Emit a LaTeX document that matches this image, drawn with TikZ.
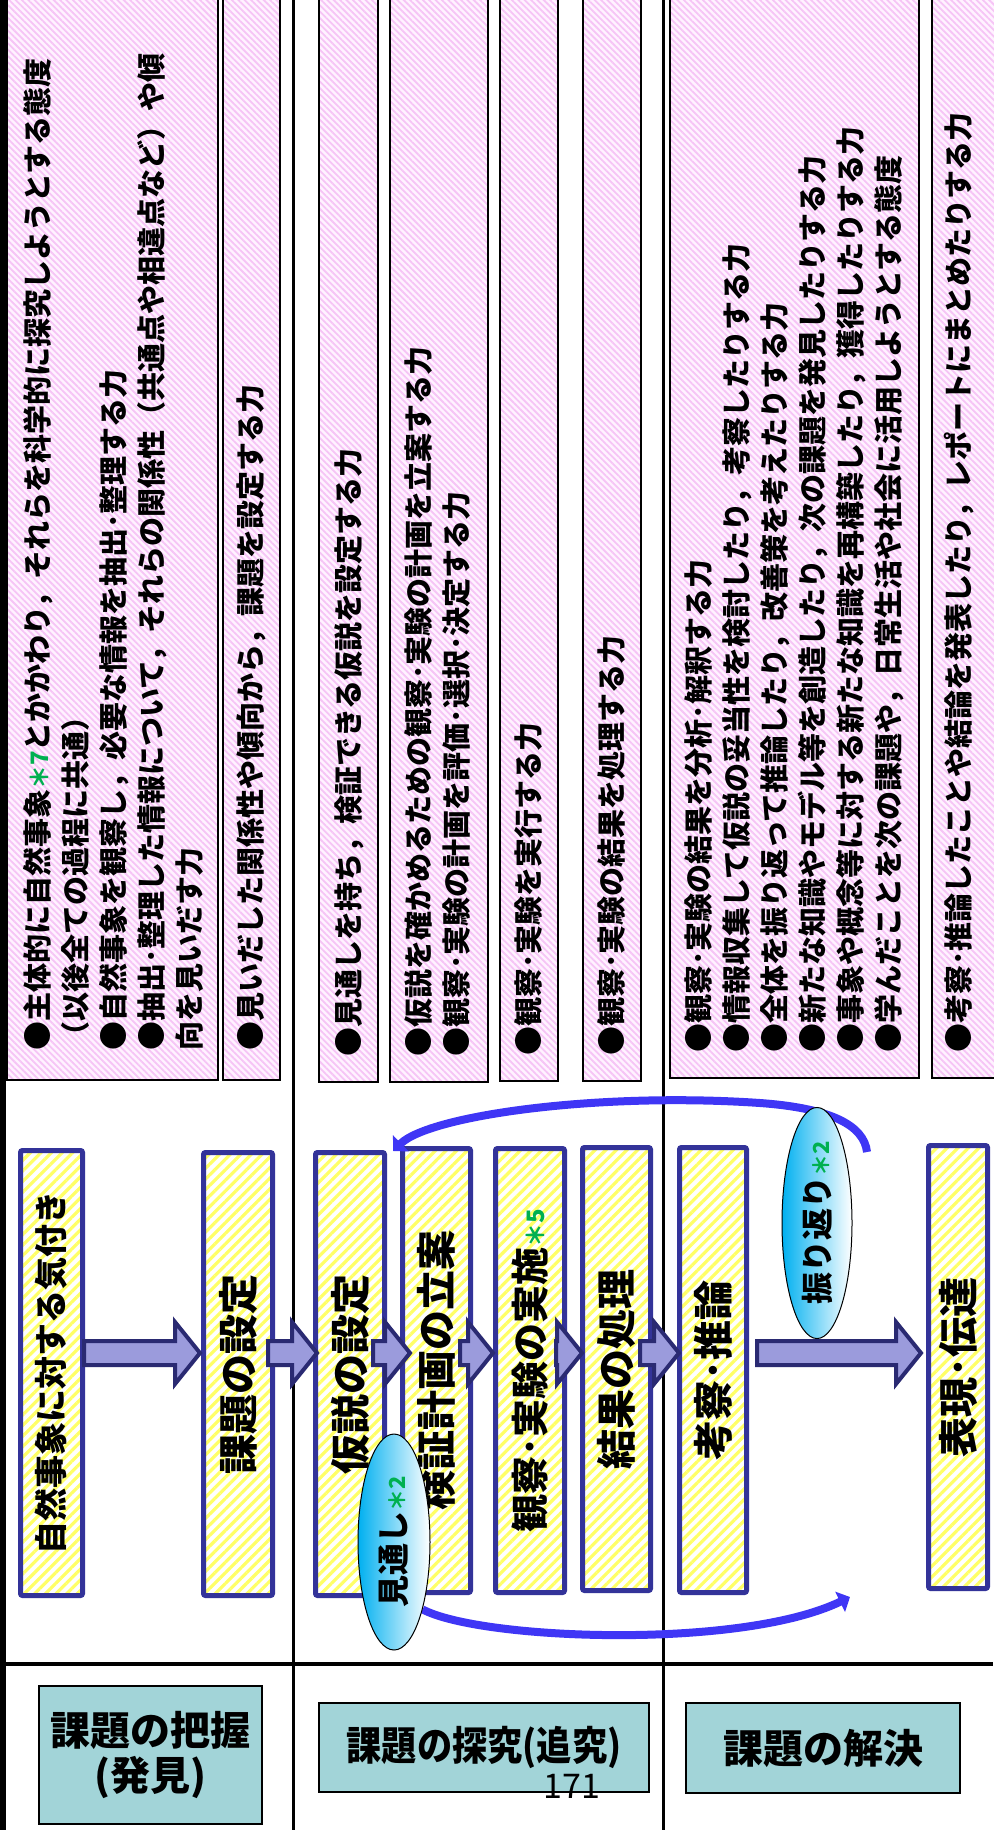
\documentclass[tikz,border=0pt]{standalone}
\usepackage{fontspec}
\setmainfont{Noto Sans CJK JP}
\usepackage{xcolor}
\usepackage{tikz}
\usetikzlibrary{shapes.geometric,patterns.meta,calc,arrows.meta}

\definecolor{navy}{HTML}{333399}
\definecolor{arrline}{HTML}{2A2A72}
\definecolor{arrfill}{HTML}{9B9BDC}
\definecolor{ylw}{HTML}{FFFF66}
\definecolor{pinkbg}{HTML}{FFF2FF}
\definecolor{pinkln}{HTML}{F6C4F6}
\definecolor{tealbg}{HTML}{A2D4D8}
\definecolor{cyanbg}{HTML}{00B0F0}
\definecolor{arcblue}{HTML}{3F36F5}
\definecolor{stargreen}{HTML}{00B050}

\pgfdeclarelayer{front}
\pgfsetlayers{main,front}

\newcommand{\gstar}[2][22]{{\color{stargreen}\fontsize{#1}{#1}\selectfont ＊#2}}

% block arrow between two process boxes
\newcommand{\blockarr}[4]{%
  \path[barrow] let \p1=($(#1.east|-ay)+(#3,0)$), \p2=($(#2.west|-ay)+(#4,0)$) in
    (\x1,\y1+12pt) -- (\x2-25pt,\y1+12pt) -- (\x2-25pt,\y1+31pt) -- (\x2,\y1)
    -- (\x2-25pt,\y1-31pt) -- (\x2-25pt,\y1-12pt) -- (\x1,\y1-12pt) -- cycle;}

\tikzset{
  pbox/.style={draw=black, line width=2, preaction={fill=pinkbg},
    pattern={Lines[angle=-45,distance=4.5pt,line width=1.8pt]}, pattern color=pinkln,
    anchor=south west, inner sep=0},
  ptext/.style={rotate=90, anchor=north west, align=left, inner sep=0,
    font=\bfseries\fontsize{29}{38}\selectfont},
  mbox/.style={draw=navy, line width=5, rounded corners=2, preaction={fill=white},
    pattern={Lines[angle=45,distance=7.5pt,line width=3.2pt]}, pattern color=ylw,
    inner sep=0, font=\bfseries\fontsize{40}{40}\selectfont},
  hdbox/.style={draw=black, line width=2, fill=tealbg, align=center, inner sep=0,
    font=\bfseries\fontsize{40}{45}\selectfont},
  ovalnode/.style={ellipse, draw=black, line width=1, left color=cyanbg, right color=white,
    inner sep=0, font=\bfseries\fontsize{32}{32}\selectfont},
  barrow/.style={draw=arrline, line width=4, fill=arrfill, line join=miter},
  backarc/.style={draw=arcblue, line width=8, -{Triangle[length=11pt,width=22pt]}}
}

\begin{document}
\begin{tikzpicture}[x=1pt,y=-1pt]
  \useasboundingbox (0,0) rectangle (993,1830);

  % Frame
  \draw[line width=6] (2.5,-5) -- (2.5,1835);
  \draw[line width=3] (293,-5) -- (293,1835);
  \draw[line width=3] (663,-5) -- (663,1835);
  \draw[line width=3.5] (0,1664) -- (993,1664);

  % Abilities (top row)
  \node[pbox, minimum width=211, minimum height=1095] (p1) at (6,1081) {};
  \node[pbox, minimum width=57, minimum height=1095] (p2) at (222,1081) {};
  \node[pbox, minimum width=59, minimum height=1095] (p3) at (318,1083) {};
  \node[pbox, minimum width=98, minimum height=1095] (p4) at (389,1083) {};
  \node[pbox, minimum width=58, minimum height=1095] (p5) at (499,1082) {};
  \node[pbox, minimum width=58, minimum height=1095] (p6) at (582,1082) {};
  \node[pbox, minimum width=249, minimum height=1095] (p7) at (669,1079) {};
  \node[pbox, minimum width=80, minimum height=1095] (p8) at (931,1079) {};

  \node[ptext] (t1) at ($(p1.south west)+(17,-30)$)
    {●主体的に自然事象\gstar[24]{7}とかかわり，それらを科学的に探究しようとする態度\\
     （以後全ての過程に共通）\\
     ●自然事象を観察し，必要な情報を抽出･整理する力\\
     ●抽出･整理した情報について，それらの関係性（共通点や相違点など）や傾\\
     向を見いだす力};
  \node[ptext] (t2) at ($(p2.south west)+(15,-30)$) {●見いだした関係性や傾向から，課題を設定する力};
  \node[ptext] (t3) at ($(p3.south west)+(16,-26)$) {●見通しを持ち，検証できる仮説を設定する力};
  \node[ptext] (t4) at ($(p4.south west)+(15,-26)$)
    {●仮説を確かめるための観察･実験の計画を立案する力\\
     ●観察･実験の計画を評価･選択･決定する力};
  \node[ptext] (t5) at ($(p5.south west)+(15,-26)$) {●観察･実験を実行する力};
  \node[ptext] (t6) at ($(p6.south west)+(15,-26)$) {●観察･実験の結果を処理する力};
  \node[ptext] (t7) at ($(p7.south west)+(15,-26)$)
    {●観察･実験の結果を分析･解釈する力\\
     ●情報収集して仮説の妥当性を検討したり，考察したりする力\\
     ●全体を振り返って推論したり，改善策を考えたりする力\\
     ●新たな知識やモデル等を創造したり，次の課題を発見したりする力\\
     ●事象や概念等に対する新たな知識を再構築したり，獲得したりする力\\
     ●学んだことを次の課題や，日常生活や社会に活用しようとする態度};
  \node[ptext] (t8) at ($(p8.south west)+(13,-26)$) {●考察･推論したことや結論を発表したり，レポートにまとめたりする力};

  % Process (middle row)
  \coordinate (ay) at (0,1353);
  \node[mbox, minimum width=62, minimum height=445, font=\bfseries\fontsize{33}{33}\selectfont] (b1) at (51.5,1373) {\rotatebox{90}{自然事象に対する気付き}};
  \node[mbox, minimum width=69, minimum height=443] (b2) at (238,1374) {\rotatebox{90}{課題の設定}};
  \node[mbox, minimum width=69, minimum height=443] (b3) at (350,1374) {\rotatebox{90}{仮説の設定}};
  \node[mbox, minimum width=68, minimum height=444] (b4) at (436.5,1370.5) {\rotatebox{90}{検証計画の立案}};
  \node[mbox, minimum width=69, minimum height=444, font=\bfseries\fontsize{38}{38}\selectfont] (b5) at (530,1370.5) {\rotatebox{90}{観察･実験の実施\gstar[24]{5}}};
  \node[mbox, minimum width=68, minimum height=443] (b6) at (616.5,1369) {\rotatebox{90}{結果の処理}};
  \node[mbox, minimum width=67, minimum height=445] (b7) at (713,1370) {\rotatebox{90}{考察･推論}};
  \node[mbox, minimum width=59, minimum height=443] (b8) at (958,1367) {\rotatebox{90}{表現･伝達}};

  \blockarr{b1}{b2}{0}{-1}
  \blockarr{b2}{b3}{-7}{4}
  \blockarr{b3}{b4}{-14}{10}
  \blockarr{b4}{b5}{-13}{0}
  \blockarr{b5}{b6}{-11}{2}
  \blockarr{b6}{b7}{-13}{2}
  \blockarr{b7}{b8}{8}{-5}

  % Loops
  \begin{pgfonlayer}{front}
    \node[ovalnode, minimum width=72, minimum height=216] (mitoshi) at (394,1542) {\rotatebox{90}{見通し\gstar{2}}};
    \node[ovalnode, minimum width=70, minimum height=214] (furikaeri) at (817,1223) {\rotatebox{90}{振り返り\gstar{2}}};
  \end{pgfonlayer}
  \coordinate (hook) at (867,1152);
  \coordinate (goal) at (850,1597);
  \draw[backarc] (hook) .. controls (864,1125) and (830,1108) .. (760,1103)
    .. controls (600,1092) and (430,1115) .. ([shift={(-7,5)}]b4.north west);
  \draw[backarc] (mitoshi.-67) .. controls (480,1640) and (740,1650) .. (goal);

  % Stages (bottom row)
  \node[hdbox, minimum width=223, minimum height=138] (h1) at (150.5,1755) {課題の把握\\(発見)};
  \node[hdbox, minimum width=330, minimum height=89] (h2) at (484,1747.5) {\scalebox{0.88}[1]{課題の探究(追究)}};
  \node[hdbox, minimum width=274, minimum height=90] (h3) at (823,1748) {課題の解決};
  \node[font=\fontsize{34}{34}\selectfont] (pg) at (572,1786) {171};
\end{tikzpicture}
\end{document}
